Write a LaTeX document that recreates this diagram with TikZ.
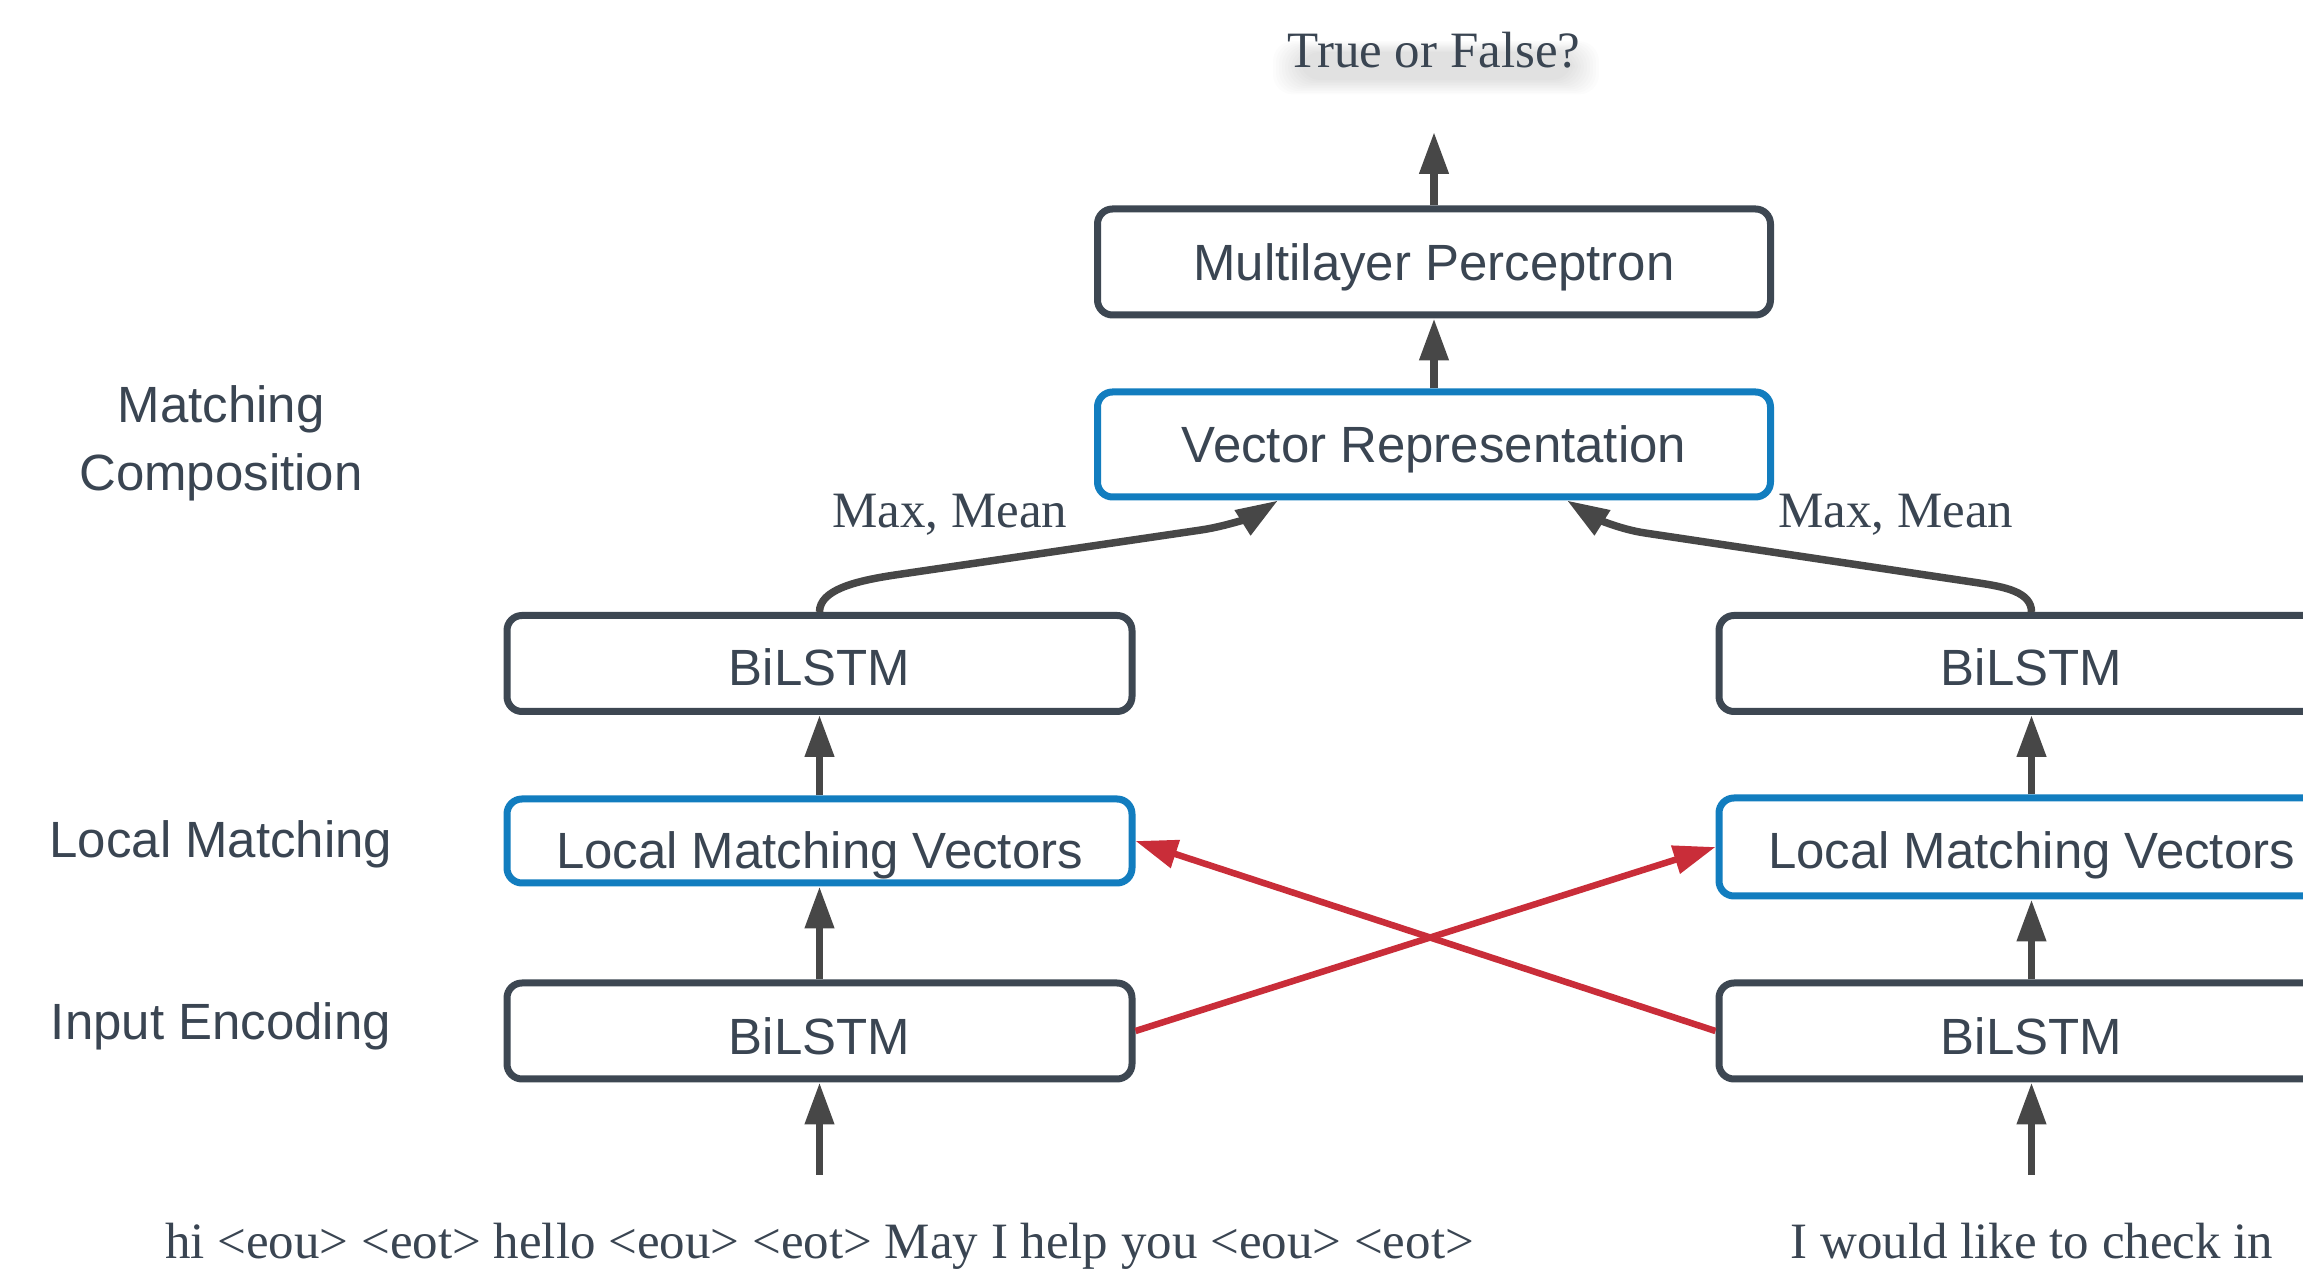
\documentclass[tikz,border=0pt]{standalone}
\usepackage{fontspec}
\setmainfont{Liberation Serif}
\setsansfont{Liberation Sans}
\usetikzlibrary{arrows.meta,calc}
\definecolor{boxdark}{HTML}{3D4752}
\definecolor{boxblue}{HTML}{127DBF}
\definecolor{txt}{HTML}{3A4552}
\definecolor{arrgray}{HTML}{474747}
\definecolor{redc}{HTML}{C92D39}
\newcommand\figfont{\fontsize{14.5pt}{17pt}\selectfont}
\begin{document}
\begin{tikzpicture}[x=0.1mm,y=-0.1mm,
  box/.style={draw=boxdark, line width=0.7mm, rounded corners=1.5mm, fill=white,
    inner sep=0pt, text height=3.65mm, text depth=0pt, text=txt,
    font=\sffamily\figfont},
  arr/.style={arrgray, line width=0.75mm, -{Triangle[length=4.2mm,width=2.8mm]}},
  redarr/.style={redc, line width=0.65mm, -{Triangle[length=4.2mm,width=2.8mm]}},
  serif/.style={anchor=base, inner sep=0pt, text=txt, font=\rmfamily\figfont},
  side/.style={anchor=base, inner sep=0pt, text=txt, font=\sffamily\figfont}]
\useasboundingbox (0,0) rectangle (2303,1273);
\clip (0,0) rectangle (2303,1273);
\fill[white] (0,0) rectangle (2303,1273);

% soft shadow under the title
\foreach \i in {0,...,9}{
  \fill[black, opacity=0.010, rounded corners=2mm]
    (1300-3*\i,52-1.2*\i) rectangle (1572+3*\i,80+1.6*\i);
}
\node[serif] (tf) at (1434,68) {True or False?};

% centre column
\node[box, minimum width=67.3mm, minimum height=10.6mm] (mlp) at (1434,262) {Multilayer Perceptron};
\node[box, draw=boxblue, minimum width=67.3mm, minimum height=10.5mm] (vr) at (1434,444.5) {Vector Representation};

% left column
\node[box, minimum width=62.5mm, minimum height=9.6mm, text height=4.35mm] (lb2) at (819.5,663.5) {BiLSTM};
\node[box, draw=boxblue, minimum width=62.5mm, minimum height=8.4mm, text height=5.45mm] (llmv) at (819.5,841) {Local Matching Vectors};
\node[box, minimum width=62.5mm, minimum height=9.6mm, text height=4.65mm] (lb1) at (819.5,1031) {BiLSTM};

% right column
\node[box, minimum width=62.5mm, minimum height=9.6mm, text height=4.35mm] (rb2) at (2031.5,663.5) {BiLSTM};
\node[box, draw=boxblue, minimum width=62.5mm, minimum height=9.8mm, text height=4.25mm] (rlmv) at (2031.5,847) {Local Matching Vectors};
\node[box, minimum width=62.5mm, minimum height=9.6mm, text height=4.65mm] (rb1) at (2031.5,1031) {BiLSTM};

% free ends
\coordinate (out) at (1434,132);
\coordinate (lin) at (819.5,1175);
\coordinate (rin) at (2031.5,1175);

% straight arrows
\draw[arr] (mlp.north) -- (out);
\draw[arr] (vr.north) -- (mlp.south);
\draw[arr] (llmv.north) -- (lb2.south);
\draw[arr] (lb1.north) -- (llmv.south);
\draw[arr] (lin) -- (lb1.south);
\draw[arr] (rlmv.north) -- (rb2.south);
\draw[arr] (rb1.north) -- (rlmv.south);
\draw[arr] (rin) -- (rb1.south);

% curved arrows to vector representation
\draw[arr] (lb2.north) .. controls (819.5,590) and (855,581) .. (895,575)
  -- (1201,530) .. controls (1230,525.7) and (1255,515) .. ([xshift=-15.6mm]vr.south);
\draw[arr] (rb2.north) .. controls (2031.5,592) and (2005,587) .. (1979,583)
  -- (1645,533) .. controls (1615,528.5) and (1590,515) .. ([xshift=13.3mm]vr.south);

% crossing red arrows
\draw[redarr] (lb1.east) -- (rlmv.west);
\draw[redarr] (rb1.west) -- (llmv.east);

% labels
\node[serif] (mm1) at (950,528) {Max, Mean};
\node[serif] (mm2) at (1896,528) {Max, Mean};
\node[serif] (lin-t) at (819.5,1259) {hi <eou> <eot> hello <eou> <eot> May I help you <eou> <eot>};
\node[serif] (rin-t) at (2032,1259) {I would like to check in};

\node[side] (mc1) at (221,423) {Matching};
\node[side] (mc2) at (221,491) {Composition};
\node[side] (lm) at (221,858) {Local Matching};
\node[side] (ie) at (221,1040) {Input Encoding};
\end{tikzpicture}
\end{document}
